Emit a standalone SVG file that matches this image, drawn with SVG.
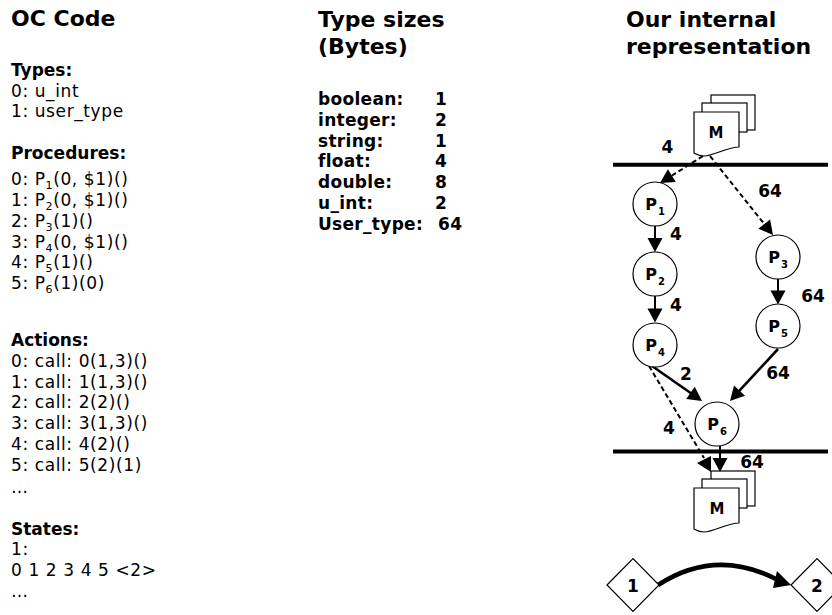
<svg xmlns="http://www.w3.org/2000/svg" xmlns:xlink="http://www.w3.org/1999/xlink" width="832" height="615" viewBox="0 0 832 615">
<style>
text{font-family:"DejaVu Sans","Verdana",sans-serif;fill:#000}
.title{font-size:22px;font-weight:bold}
.hd{font-size:17px;font-weight:bold}
.tx{font-size:17px;letter-spacing:0.6px}
.bt{font-size:17px;font-weight:bold;letter-spacing:0.3px}
.lbl{font-size:17px;font-weight:bold;text-anchor:middle}
.nl{font-size:16px;font-weight:bold;text-anchor:middle}
.sub{font-size:11px}
.nsub{font-size:10px}
.node{fill:#fff;stroke:#000;stroke-width:1.2}
.page{fill:#fff;stroke:#000;stroke-width:1.2}
.solid{stroke:#000;stroke-width:2;fill:none}
.thick{stroke:#000;stroke-width:2.6;fill:none}
.dash{stroke:#000;stroke-width:2;stroke-dasharray:5 3;fill:none}
.bar{stroke:#000;stroke-width:4}
.head{fill:#000;stroke:none}
</style>
<defs>
<g id="doc">
<rect class="page" x="17" y="-17" width="44" height="35"/>
<rect class="page" x="8" y="-9" width="45" height="29"/>
<path class="page" d="M0,0 H45 V35 C33,35 20,44 10,44 C5,44 2,42 0,41 Z"/>
</g>
</defs>

<g id="oc-code">
<text class="title" x="11" y="26">OC Code</text>
<text class="hd" x="11" y="76">Types:</text>
<text class="tx" x="11" y="97">0: u_int</text>
<text class="tx" x="11" y="117">1: user_type</text>
<text class="hd" x="11" y="159">Procedures:</text>
<text class="tx" x="11" y="185">0: P<tspan class="sub" dy="4">1</tspan><tspan dy="-4">(0, $1)()</tspan></text>
<text class="tx" x="11" y="206">1: P<tspan class="sub" dy="4">2</tspan><tspan dy="-4">(0, $1)()</tspan></text>
<text class="tx" x="11" y="226.5">2: P<tspan class="sub" dy="4">3</tspan><tspan dy="-4">(1)()</tspan></text>
<text class="tx" x="11" y="247.5">3: P<tspan class="sub" dy="4">4</tspan><tspan dy="-4">(0, $1)()</tspan></text>
<text class="tx" x="11" y="268">4: P<tspan class="sub" dy="4">5</tspan><tspan dy="-4">(1)()</tspan></text>
<text class="tx" x="11" y="288.5">5: P<tspan class="sub" dy="4">6</tspan><tspan dy="-4">(1)(0)</tspan></text>
<text class="hd" x="11" y="345.5">Actions:</text>
<text class="tx" x="11" y="366.5">0: call: 0(1,3)()</text>
<text class="tx" x="11" y="387.5">1: call: 1(1,3)()</text>
<text class="tx" x="11" y="408">2: call: 2(2)()</text>
<text class="tx" x="11" y="429">3: call: 3(1,3)()</text>
<text class="tx" x="11" y="450">4: call: 4(2)()</text>
<text class="tx" x="11" y="470.5">5: call: 5(2)(1)</text>
<text class="tx" x="11" y="492.5">…</text>
<text class="hd" x="11" y="534.5">States:</text>
<text class="tx" x="11" y="555">1:</text>
<text class="tx" x="11" y="576">0 1 2 3 4 5 &lt;2&gt;</text>
<text class="tx" x="11" y="596.5">…</text>
</g>

<g id="type-sizes">
<text class="title" x="318" y="26.5">Type sizes</text>
<text class="title" x="318" y="54">(Bytes)</text>
<text class="bt" x="318" y="105">boolean:</text><text class="bt" x="435" y="105">1</text>
<text class="bt" x="318" y="125.5">integer:</text><text class="bt" x="435" y="125.5">2</text>
<text class="bt" x="318" y="146.5">string:</text><text class="bt" x="435" y="146.5">1</text>
<text class="bt" x="318" y="167">float:</text><text class="bt" x="435" y="167">4</text>
<text class="bt" x="318" y="188">double:</text><text class="bt" x="435" y="188">8</text>
<text class="bt" x="318" y="208.5">u_int:</text><text class="bt" x="435" y="208.5">2</text>
<text class="bt" x="318" y="229.5">User_type:</text><text class="bt" x="438" y="229.5">64</text>
</g>

<g id="repr-title">
<text class="title" x="626" y="26.5">Our internal</text>
<text class="title" x="626" y="53.5">representation</text>
</g>

<g id="bars">
<line class="bar" x1="613" y1="164.7" x2="828" y2="164.7"/>
<line class="bar" x1="613" y1="451.5" x2="828" y2="451.5"/>
</g>

<g id="connectors">
<line class="dash" x1="703" y1="156" x2="672" y2="175.5"/>
<polygon class="head" points="660,183 667.9,169.2 675.9,181.9"/>
<line class="dash" x1="710" y1="156" x2="764.3" y2="224"/>
<polygon class="head" points="773,235 758.4,228.7 770.1,219.4"/>
<line class="solid" x1="655" y1="226" x2="655" y2="239"/>
<polygon class="head" points="655,252 647.5,238 662.5,238"/>
<line class="solid" x1="655" y1="296" x2="655" y2="309.5"/>
<polygon class="head" points="655,322.5 647.5,308.5 662.5,308.5"/>
<line class="solid" x1="778" y1="279" x2="778" y2="291.5"/>
<polygon class="head" points="778,304.5 770.5,290.5 785.5,290.5"/>
<line class="thick" x1="652" y1="366" x2="691" y2="393.3"/>
<polygon class="head" points="702,401 686.2,399.1 694.8,386.8"/>
<line class="thick" x1="778" y1="349" x2="739" y2="391.2"/>
<polygon class="head" points="730,401 734,385.6 745,395.8"/>
<line class="dash" x1="649" y1="366" x2="704" y2="458"/>
<polygon class="head" points="697,463 711,456 711,472"/>
<line class="solid" x1="720" y1="446" x2="720" y2="459"/>
<polygon class="head" points="720,472 712.5,458 727.5,458"/>
<path d="M658,585 Q715,548 776,579" stroke="#000" stroke-width="4.5" fill="none"/>
<polygon class="head" points="791,585 777,571 773,588"/>
</g>

<g id="edge-labels">
<text class="lbl" x="667.5" y="153">4</text>
<text class="lbl" x="770" y="197">64</text>
<text class="lbl" x="676" y="240">4</text>
<text class="lbl" x="676" y="311">4</text>
<text class="lbl" x="813" y="302">64</text>
<text class="lbl" x="686" y="380">2</text>
<text class="lbl" x="778" y="379">64</text>
<text class="lbl" x="669" y="434">4</text>
<text class="lbl" x="752" y="468">64</text>
</g>

<g id="M-in">
<use xlink:href="#doc" x="694" y="112"/>
<text class="nl" x="716" y="137.5" style="font-size:15px">M</text>
</g>
<g id="M-out">
<use xlink:href="#doc" x="694" y="488"/>
<text class="nl" x="717" y="513.5" style="font-size:15px">M</text>
</g>

<g id="P1"><circle class="node" cx="655" cy="204" r="22"/><text class="nl" x="655" y="210">P<tspan class="nsub" dy="5" dx="1">1</tspan></text></g>
<g id="P2"><circle class="node" cx="655" cy="274" r="22"/><text class="nl" x="655" y="280">P<tspan class="nsub" dy="5" dx="1">2</tspan></text></g>
<g id="P4"><circle class="node" cx="655" cy="345" r="22"/><text class="nl" x="655" y="351">P<tspan class="nsub" dy="5" dx="1">4</tspan></text></g>
<g id="P3"><circle class="node" cx="778" cy="257" r="22"/><text class="nl" x="778" y="263">P<tspan class="nsub" dy="5" dx="1">3</tspan></text></g>
<g id="P5"><circle class="node" cx="778" cy="326" r="22"/><text class="nl" x="778" y="332">P<tspan class="nsub" dy="5" dx="1">5</tspan></text></g>
<g id="P6"><circle class="node" cx="717" cy="424" r="22"/><text class="nl" x="717" y="430">P<tspan class="nsub" dy="5" dx="1">6</tspan></text></g>

<g id="S1"><polygon class="node" points="607,585 633,558.5 659,585 633,611.5"/><text class="lbl" x="633" y="592">1</text></g>
<g id="S2"><polygon class="node" points="791,585 817,558.5 843,585 817,611.5"/><text class="lbl" x="817" y="592">2</text></g>
</svg>
